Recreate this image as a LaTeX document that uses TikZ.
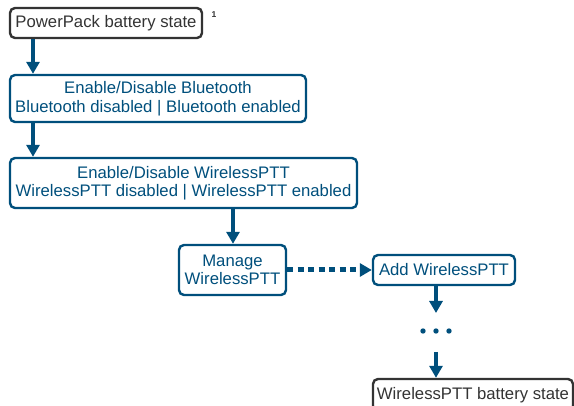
\documentclass[tikz,border=0pt]{standalone}
\usepackage{fontspec}
\setmainfont{Liberation Sans}
\usetikzlibrary{arrows.meta}
\definecolor{bblue}{RGB}{0,79,124}
\definecolor{dgray}{RGB}{51,51,51}
\tikzset{
  box/.style={draw, rounded corners=5pt, line width=2.4pt, inner sep=0pt, align=center,
    font=\fontsize{16.7}{18.5}\selectfont},
  graybox/.style={box, draw=dgray, text=dgray},
  bluebox/.style={box, draw=bblue, text=bblue},
  arr/.style={draw=bblue, line width=4.2pt, -{Triangle[length=12pt,width=13pt]}},
  dotarr/.style={draw=bblue, line width=5pt, dash pattern=on 6pt off 4.5pt, -{Triangle[length=12pt,width=13pt]}},
}
\begin{document}
\begin{tikzpicture}[x=1pt,y=-1pt]
\useasboundingbox (0,0) rectangle (574,406);
\node[graybox, minimum width=192pt, minimum height=30pt] (b1) at (106,23) {PowerPack battery state};
\node[text=dgray, font=\fontsize{8.5}{9}\selectfont\bfseries] (sup) at (214,15) {1};
\node[bluebox, minimum width=296pt, minimum height=47pt] (b2) at (158,98.5) {Enable/Disable Bluetooth\\Bluetooth disabled | Bluetooth enabled};
\node[bluebox, minimum width=347pt, minimum height=50pt] (b3) at (183.5,183) {Enable/Disable WirelessPTT\\WirelessPTT disabled | WirelessPTT enabled};
\node[bluebox, minimum width=107pt, minimum height=50pt] (b4) at (232.5,270) {Manage\\WirelessPTT};
\node[bluebox, minimum width=142pt, minimum height=30pt] (b5) at (444,270) {Add WirelessPTT};
\node[graybox, minimum width=200pt, minimum height=32pt] (b6) at (473,395) {WirelessPTT battery state};
\coordinate (xa) at (33,0);
\coordinate (xb) at (233,0);
\coordinate (xc) at (436,0);
\coordinate (d1) at (436,313);
\coordinate (d2) at (436,352);
\node[inner sep=0pt, minimum size=6pt] (dots) at (436,331) {};
\fill[bblue] (dots.center) ++(-13,0) circle (2.7pt) (dots.center) circle (2.7pt) (dots.center) ++(13,0) circle (2.7pt);
\draw[arr] (b1.south -| xa) -- (b2.north -| xa);
\draw[arr] (b2.south -| xa) -- (b3.north -| xa);
\draw[arr] (b3.south -| xb) -- (b4.north -| xb);
\draw[dotarr] (b4.east) -- (b5.west);
\draw[arr] (b5.south -| xc) -- (d1);
\draw[arr] (d2) -- (b6.north -| xc);
\end{tikzpicture}
\end{document}
